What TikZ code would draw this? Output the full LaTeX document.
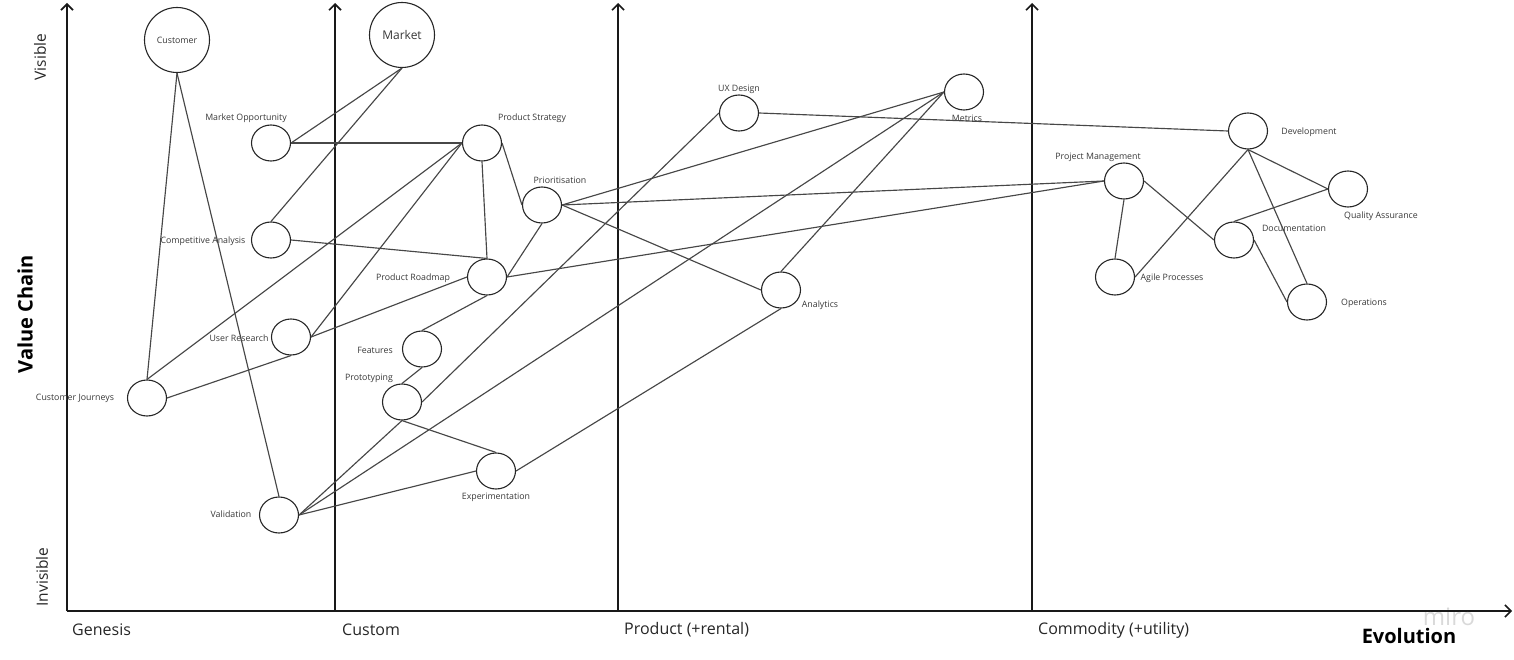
\documentclass[tikz,border=0pt]{standalone}
\usepackage{fontspec}
\setmainfont{Open Sans}
\usetikzlibrary{arrows.meta,positioning,shapes.geometric}

\begin{document}
\begin{tikzpicture}[x=1pt,y=-1pt,
		comp/.style={ellipse,draw=black!85,line width=1.1pt,fill=white,minimum width=39pt,minimum height=36pt,inner sep=0pt},
		big/.style={circle,draw=black!85,line width=1.1pt,fill=white,minimum size=65pt,inner sep=0pt},
		lbl/.style={font=\fontsize{8.8}{10}\selectfont,text=black!78,inner sep=0pt},
		link/.style={draw=black!72,line width=1.15pt},
		axis/.style={draw=black!90,line width=1.6pt,-{Straight Barb[length=6pt,width=12pt]}},
		stage/.style={font=\fontsize{16}{18}\selectfont,text=black!85,anchor=west,inner sep=0pt},
		side/.style={font=\fontsize{15.5}{18}\selectfont,text=black!85,rotate=90,inner sep=0pt}]
	\useasboundingbox (0,0) rectangle (1514,660);
	% axes
	\coordinate (o) at (67,611);
	\coordinate (xend) at (1512,611);
	\coordinate (yend) at (67,3);
	\coordinate (c_b) at (335,611);
	\coordinate (c_t) at (335,3);
	\coordinate (p_b) at (618,611);
	\coordinate (p_t) at (618,3);
	\coordinate (u_b) at (1032,611);
	\coordinate (u_t) at (1032,3);
	\draw[axis] (o) -- (yend);
	\draw[axis] (c_b) -- (c_t);
	\draw[axis] (p_b) -- (p_t);
	\draw[axis] (u_b) -- (u_t);
	\draw[axis] (o) -- (xend);
	\node[font=\fontsize{24}{26}\selectfont,text=black!15] (wm) at (1449,617) {miro};
	% axis texts
	\node[side] (vis) at (40,57) {Visible};
	\node[side] (invis) at (42,577) {Invisible};
	\node[side,font=\bfseries\fontsize{20}{22}\selectfont,text=black] (vchain) at (25,314) {Value Chain};
	\node[stage] (gen) at (72,630) {Genesis};
	\node[stage] (cus) at (342,630) {Custom};
	\node[stage] (prd) at (624,630) {Product (+rental)};
	\node[stage] (com) at (1038,630) {Commodity (+utility)};
	\node[font=\bfseries\fontsize{20}{22}\selectfont,text=black] (evo) at (1409,636) {Evolution};
	% components
	\node[big,lbl] (cust) at (177,40) {Customer};
	\node[big,font=\fontsize{12}{14}\selectfont,text=black!78] (mkt) at (402,35) {Market};
	\node[comp] (mo) at (271,143) {};
	\node[comp] (ca) at (271,240) {};
	\node[comp] (ur) at (291,337) {};
	\node[comp] (cj) at (147,398) {};
	\node[comp] (val) at (279,515) {};
	\node[comp] (ps) at (482,143) {};
	\node[comp] (prio) at (542,205) {};
	\node[comp] (pr) at (487,277) {};
	\node[comp] (feat) at (422,349) {};
	\node[comp] (proto) at (402,402) {};
	\node[comp] (exp) at (496,471) {};
	\node[comp] (uxd) at (739,113) {};
	\node[comp] (met) at (964,92) {};
	\node[comp] (ana) at (781,290) {};
	\node[comp] (pm) at (1124,181) {};
	\node[comp] (dev) at (1248,131) {};
	\node[comp] (qa) at (1348,189) {};
	\node[comp] (doc) at (1234,240) {};
	\node[comp] (agile) at (1115,277) {};
	\node[comp] (ops) at (1307,302) {};
	% component names
	\node[lbl] (mo_l) at (246,118) {Market Opportunity};
	\node[lbl] (ca_l) at (203,241) {Competitive Analysis};
	\node[lbl] (ur_l) at (239,338) {User Research};
	\node[lbl] (cj_l) at (75,398) {Customer Journeys};
	\node[lbl] (val_l) at (231,514) {Validation};
	\node[lbl] (ps_l) at (532,118) {Product Strategy};
	\node[lbl] (prio_l) at (560,180) {Prioritisation};
	\node[lbl] (pr_l) at (413,278) {Product Roadmap};
	\node[lbl] (feat_l) at (375,350) {Features};
	\node[lbl] (proto_l) at (369,378) {Prototyping};
	\node[lbl] (exp_l) at (496,497) {Experimentation};
	\node[lbl] (uxd_l) at (739,89) {UX Design};
	\node[lbl] (met_l) at (967,118) {Metrics};
	\node[lbl] (ana_l) at (820,305) {Analytics};
	\node[lbl] (pm_l) at (1098,157) {Project Management};
	\node[lbl] (dev_l) at (1309,132) {Development};
	\node[lbl] (qa_l) at (1381,216) {Quality Assurance};
	\node[lbl] (doc_l) at (1294,228) {Documentation};
	\node[lbl] (agile_l) at (1172,278) {Agile Processes};
	\node[lbl] (ops_l) at (1364,303) {Operations};
	% links
	\path[link]
		(cust.south) edge (cj.north)
		(cust.south) edge (val.north)
		(mkt.south) edge (mo.east)
		(mkt.south) edge (ca.north)
		(mo.east) edge (ps.west)
		(ps.west) edge (cj.north)
		(ps.west) edge (ur.east)
		(ps.south) edge (pr.north)
		(ps.east) edge (prio.west)
		(ca.east) edge (pr.north)
		(cj.east) edge (ur.south)
		(ur.east) edge (pr.west)
		(pr.east) edge (prio.south)
		(pr.east) edge (pm.west)
		(feat.north) edge (pr.south)
		(proto.north) edge (feat.south)
		(proto.east) edge (uxd.west)
		(proto.south) edge (exp.north)
		(val.east) edge (proto.south)
		(val.east) edge (met.west)
		(val.east) edge (exp.west)
		(exp.east) edge (ana.south)
		(prio.east) edge (met.west)
		(prio.east) edge (pm.west)
		(prio.east) edge (ana.west)
		(ana.north) edge (met.west)
		(uxd.east) edge (dev.west)
		(pm.east) edge (doc.west)
		(pm.south) edge (agile.north)
		(agile.east) edge (dev.south)
		(dev.south) edge (qa.west)
		(dev.south) edge (ops.north)
		(qa.west) edge (doc.north)
		(doc.east) edge (ops.west);
\end{tikzpicture}
\end{document}
